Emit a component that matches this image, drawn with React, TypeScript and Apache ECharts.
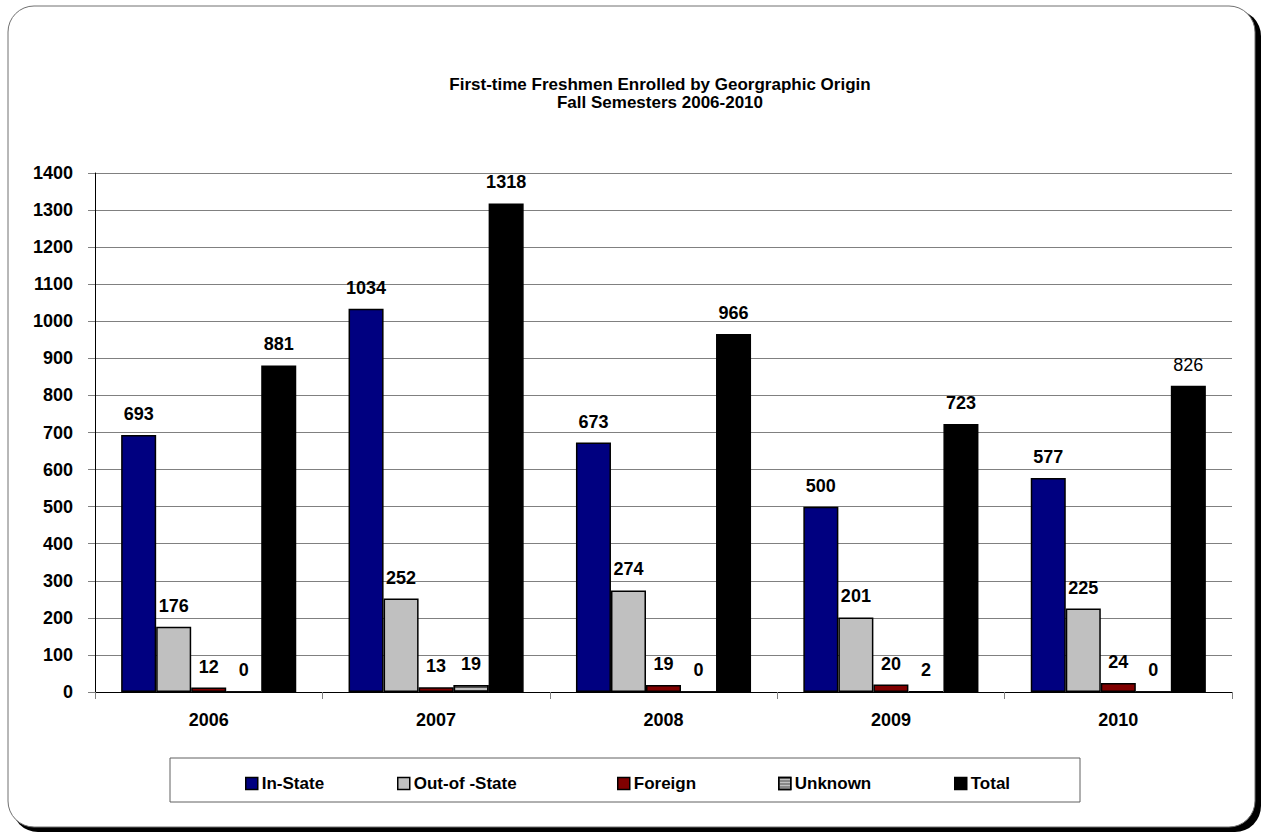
import React, { useEffect, useRef } from "react";
import * as echarts from "echarts";

const years = ["2006", "2007", "2008", "2009", "2010"];
const inState = [693, 1034, 673, 500, 577];
const outOfState = [176, 252, 274, 201, 225];
const foreign = [12, 13, 19, 20, 24];
const unknown = [0, 19, 0, 2, 0];
const total = [881, 1318, 966, 723, 826];
const seriesNames = ["In-State", "Out-of -State", "Foreign", "Unknown", "Total"];
const seriesColors = ["#000080", "#c0c0c0", "#800000", "#c0c0c0", "#000000"];
const legendLefts = [240, 392, 612, 773, 949];

const FONT = "'Liberation Sans', Arial, sans-serif";

export default function App() {
  const ref = useRef<HTMLDivElement>(null);
  useEffect(() => {
    document.body.style.margin = "0";
    const chart = echarts.init(ref.current!, null, { renderer: "svg" });
    const data = [inState, outOfState, foreign, unknown, total];
    const series = seriesNames.map((name, i) => ({
      name,
      type: "bar",
      data: data[i].map((v, j) => ({
        value: v,
        label: i === 4 && j === 4 ? { fontWeight: "normal" } : undefined,
      })),
      barGap: "0%",
      barCategoryGap: "23%",
      itemStyle: {
        color: seriesColors[i],
        borderColor: "#000",
        borderWidth: 1.5,
        decal:
          i === 3
            ? { symbol: "rect", symbolSize: 1, dashArrayX: [[1, 0]], dashArrayY: [1, 2], color: "#505050", rotation: 0 }
            : undefined,
      },
      label: {
        show: true,
        position: "top",
        distance: 12,
        color: "#000",
        fontFamily: FONT,
        fontWeight: "bold",
        fontSize: 18,
      },
    }));
    chart.setOption({
      animation: false,
      backgroundColor: "transparent",
      graphic: [
        { type: "rect", z: -10, shape: { x: 12, y: 10, width: 1249, height: 822, r: 26 }, style: { fill: "#000" } },
        { type: "rect", z: -9, shape: { x: 8, y: 6, width: 1247, height: 821, r: 26 }, style: { fill: "#fff", stroke: "#707070", lineWidth: 1 } },
        { type: "rect", z: -8, shape: { x: 170, y: 758, width: 910, height: 44 }, style: { fill: "#fff", stroke: "#606060", lineWidth: 1 } },
      ],
      title: {
        text: "First-time Freshmen Enrolled by Georgraphic Origin\nFall Semesters 2006-2010",
        left: 655,
        textAlign: "center",
        top: 70,
        textStyle: { fontFamily: FONT, fontWeight: "bold", fontSize: 17, lineHeight: 18, color: "#000" },
      },
      legend: seriesNames.map((n, i) => ({
        data: [n],
        left: legendLefts[i],
        top: 770,
        itemWidth: 12,
        itemHeight: 12,
        itemGap: 4,
        icon: "rect",
        textStyle: { fontFamily: FONT, fontWeight: "bold", fontSize: 17, color: "#000", padding: [0, 0, 0, -1] },
        itemStyle: { borderColor: "#000", borderWidth: 1.5 },
      })),
      grid: { left: 95, right: 30, top: 173, bottom: 140 },
      xAxis: {
        type: "category",
        data: years,
        axisLine: { lineStyle: { color: "#000", width: 1 } },
        axisTick: { show: true, length: 7, lineStyle: { color: "#808080" } },
        axisLabel: { fontFamily: FONT, fontWeight: "bold", fontSize: 18, color: "#000", margin: 19 },
      },
      yAxis: {
        type: "value",
        min: 0,
        max: 1400,
        interval: 100,
        axisLine: { show: true, lineStyle: { color: "#000", width: 1 } },
        axisTick: { show: true, length: 7, lineStyle: { color: "#808080" } },
        axisLabel: {
          fontFamily: FONT,
          fontWeight: "bold",
          fontSize: 18,
          color: "#000",
          margin: 22,
          formatter: (v: number) => String(v),
        },
        splitLine: { lineStyle: { color: "#808080", width: 1 } },
      },
      series,
    });
    return () => chart.dispose();
  }, []);
  return <div ref={ref} style={{ width: 1262, height: 832 }} />;
}
